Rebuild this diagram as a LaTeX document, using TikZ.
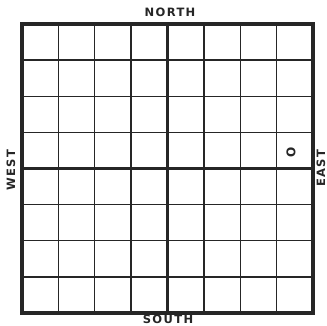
\documentclass[tikz,border=0pt]{standalone}
\usepackage{fontspec}
\setmainfont{DejaVu Sans}
\newfontfamily\lblfont[LetterSpace=12]{DejaVu Sans Bold}
\begin{document}
\begin{tikzpicture}[x=1pt,y=1pt,
  lbl/.style={font=\lblfont\fontsize{11.5}{11.5}\selectfont, inner sep=0pt, text=black!85},
  thin/.style={line width=1.3pt, black!85},
  mid/.style={line width=2.4pt, black!85},
  outer/.style={line width=3.5pt, black!85}]
\useasboundingbox (0,0) rectangle (327,326);
\fill[white] (0,0) rectangle (327,326);
\coordinate (sw) at (22,13);
\coordinate (ne) at (313,302);
% inner lines
\foreach \i in {1,2,3,5,6,7} {
  \draw[thin] ({22+\i*291/8},13) -- ({22+\i*291/8},302);
  \draw[thin] (22,{13+\i*289/8}) -- (313,{13+\i*289/8});
}
\draw[mid] ({22+4*291/8},13) -- ({22+4*291/8},302);
\draw[mid] (22,{13+4*289/8}) -- (313,{13+4*289/8});
\draw[outer] (sw) rectangle (ne);
\node[lbl] (north) at (170,313.5) {NORTH};
\node[lbl] (south) at (168,6.5) {SOUTH};
\node[lbl, rotate=90] (west) at (11,156) {WEST};
\node[lbl, rotate=90] (east) at (321,158) {EAST};
\node[lbl, rotate=90, font=\lblfont\fontsize{12}{12}\selectfont] (o) at (291,174) {O};
\end{tikzpicture}
\end{document}
